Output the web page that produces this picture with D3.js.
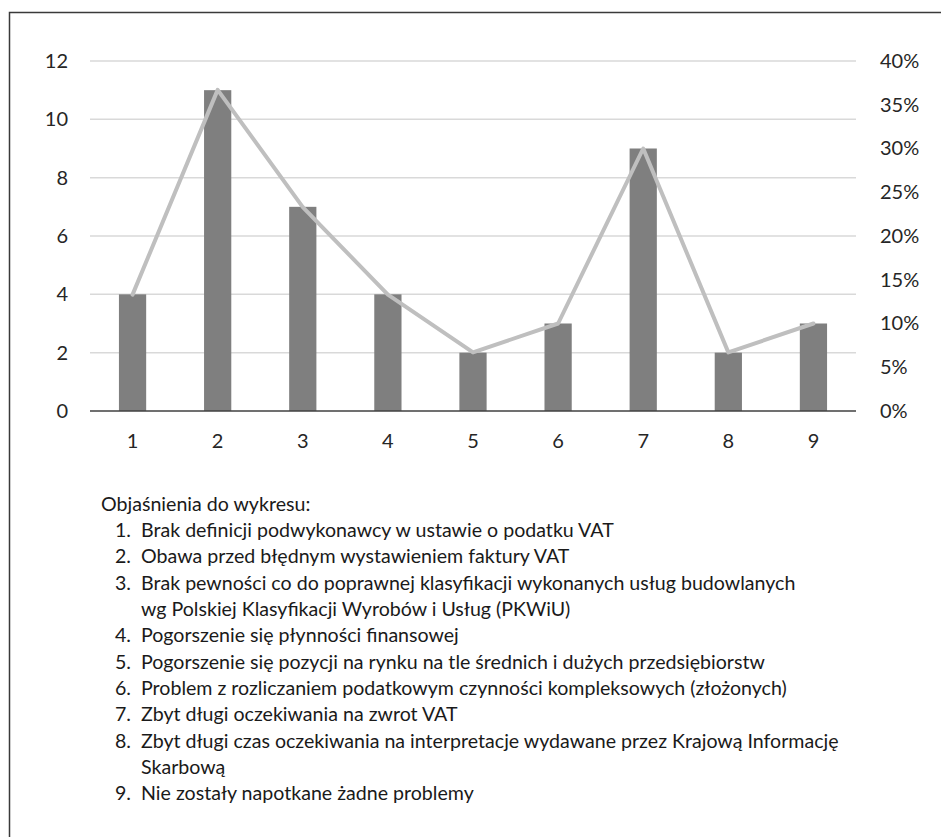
<!DOCTYPE html>
<html>
<head>
<meta charset="utf-8">
<script src="https://cdn.jsdelivr.net/npm/d3@7"></script>
<style>
  body { margin: 0; background: #fff; }
  svg { display: block; font-family: Lato, "Open Sans", sans-serif; }
</style>
</head>
<body>
<div></div>
<script>
const categories = ["1", "2", "3", "4", "5", "6", "7", "8", "9"]
const counts = [4, 11, 7, 4, 2, 3, 9, 2, 3]
const shares = [0.133, 0.367, 0.233, 0.133, 0.067, 0.1, 0.3, 0.067, 0.1]

const countTicks = [0, 2, 4, 6, 8, 10, 12]
const shareTicks = [0, 0.05, 0.1, 0.15, 0.2, 0.25, 0.3, 0.35, 0.4]

const notesTitle = "Objaśnienia do wykresu:"
const notes = [
    ["Brak definicji podwykonawcy w ustawie o podatku VAT"],
    ["Obawa przed błędnym wystawieniem faktury VAT"],
    ["Brak pewności co do poprawnej klasyfikacji wykonanych usług budowlanych",
     "wg Polskiej Klasyfikacji Wyrobów i Usług (PKWiU)"],
    ["Pogorszenie się płynności finansowej"],
    ["Pogorszenie się pozycji na rynku na tle średnich i dużych przedsiębiorstw"],
    ["Problem z rozliczaniem podatkowym czynności kompleksowych (złożonych)"],
    ["Zbyt długi oczekiwania na zwrot VAT"],
    ["Zbyt długi czas oczekiwania na interpretacje wydawane przez Krajową Informację",
     "Skarbową"],
    ["Nie zostały napotkane żadne problemy"]
]

const w = 941
const h = 837
const plotLeft = 90
const plotRight = 856
const plotTop = 61
const plotBottom = 411

const svg = d3.select("div").append("svg")
    .attr("width", w)
    .attr("height", h)

// frame: only top and left edges show in the picture
svg.append("path")
    .attr("d", `M9.5,${h} V12.5 H${w}`)
    .attr("fill", "none")
    .attr("stroke", "#3a3a3a")
    .attr("stroke-width", 1.5)

const xScale = d3.scaleBand()
    .domain(categories)
    .range([plotLeft, plotRight])
    .paddingInner(0.68)
    .paddingOuter(0.34)

const countScale = d3.scaleLinear()
    .domain([0, 12])
    .range([plotBottom, plotTop])

const shareScale = d3.scaleLinear()
    .domain([0, 0.4])
    .range([plotBottom, plotTop])

svg.append("g")
    .selectAll("line")
    .data(countTicks.slice(1))
    .enter()
    .append("line")
    .attr("x1", plotLeft)
    .attr("x2", plotRight)
    .attr("y1", d => countScale(d))
    .attr("y2", d => countScale(d))
    .attr("stroke", "#d9d9d9")
    .attr("stroke-width", 1.5)

svg.append("g")
    .selectAll("rect")
    .data(counts)
    .enter()
    .append("rect")
    .attr("x", (d, i) => xScale(categories[i]))
    .attr("y", d => countScale(d))
    .attr("width", xScale.bandwidth())
    .attr("height", d => countScale(0) - countScale(d))
    .attr("fill", "#7f7f7f")

svg.append("line")
    .attr("x1", plotLeft)
    .attr("x2", plotRight)
    .attr("y1", countScale(0))
    .attr("y2", countScale(0))
    .attr("stroke", "#404040")
    .attr("stroke-width", 1.5)

const line = d3.line()
    .x((d, i) => xScale(categories[i]) + xScale.bandwidth() / 2)
    .y(d => shareScale(d))

svg.append("path")
    .datum(shares)
    .attr("d", line)
    .attr("fill", "none")
    .attr("stroke", "#bfbfbf")
    .attr("stroke-width", 4)
    .attr("stroke-linejoin", "round")
    .attr("stroke-linecap", "round")

const leftAxis = d3.axisLeft(countScale)
    .tickValues(countTicks)
    .tickSize(0)
    .tickPadding(22)

const rightAxis = d3.axisRight(shareScale)
    .tickValues(shareTicks)
    .tickSize(0)
    .tickPadding(24)
    .tickFormat(d3.format(".0%"))

const bottomAxis = d3.axisBottom(xScale)
    .tickSize(0)
    .tickPadding(23)

svg.append("g")
    .attr("class", "axis")
    .attr("transform", `translate(${plotLeft},0)`)
    .call(leftAxis)

svg.append("g")
    .attr("class", "axis")
    .attr("transform", `translate(${plotRight},0)`)
    .call(rightAxis)

svg.append("g")
    .attr("class", "axis")
    .attr("transform", `translate(0,${plotBottom})`)
    .call(bottomAxis)

svg.selectAll(".axis .domain").remove()
svg.selectAll(".axis text")
    .attr("font-family", "Lato, sans-serif")
    .attr("font-size", 20)
    .attr("fill", "#262626")

// explanation list under the chart
const lineH = 26.3
const notesG = svg.append("g")
    .attr("font-size", 19.6)
    .attr("fill", "#1a1a1a")

notesG.append("text")
    .attr("x", 101)
    .attr("y", 504)
    .attr("dy", "0.35em")
    .text(notesTitle)

let row = 1
notes.forEach((lines, i) => {
    notesG.append("text")
        .attr("x", 115)
        .attr("y", 504 + row * lineH)
        .attr("dy", "0.35em")
        .text((i + 1) + ".")
    lines.forEach(t => {
        notesG.append("text")
            .attr("x", 141)
            .attr("y", 504 + row * lineH)
            .attr("dy", "0.35em")
            .text(t)
        row++
    })
})
</script>
</body>
</html>
